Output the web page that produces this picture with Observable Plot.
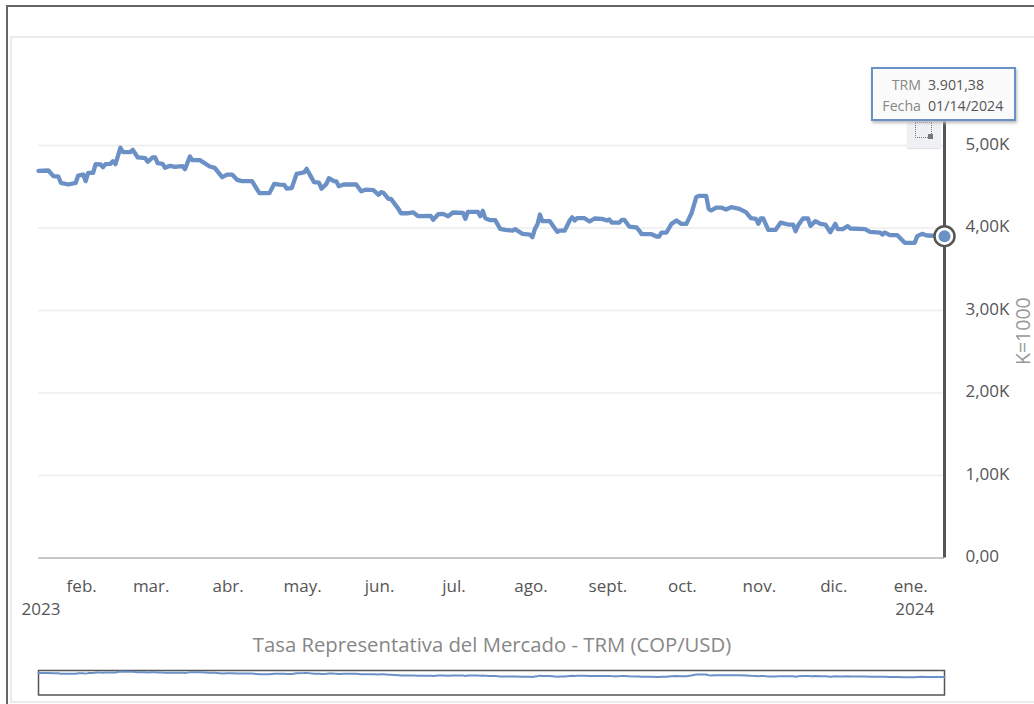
<!DOCTYPE html>
<html lang="es">
<head>
<meta charset="utf-8">
<script src="https://cdn.jsdelivr.net/npm/d3@7"></script>
<script src="https://cdn.jsdelivr.net/npm/@observablehq/plot@0.6"></script>
<style>
html,body{margin:0;padding:0;background:#fff;width:1034px;height:704px;overflow:hidden;font-family:"Open Sans",sans-serif}
svg{position:absolute;left:0;overflow:visible;background:transparent}
.frame{position:absolute;left:6px;top:5px;width:1040px;height:720px;border:2px solid #666;box-sizing:border-box}
.panel{position:absolute;left:10px;top:36px;width:1040px;height:667px;border:2px solid #ebebeb;box-sizing:border-box}
.title{position:absolute;left:0;width:984px;top:630px;text-align:center;color:#878787;font-size:20.3px;line-height:28px;white-space:nowrap}
.zoomBtn{position:absolute;left:907px;top:118px;width:34px;height:30px;background:#eef0f3;border-radius:2px;box-shadow:0 1px 1px #ddd}
.zoomBtn i{position:absolute;left:8px;top:4px;width:17px;height:16px;border:1px dotted #777;box-sizing:border-box}
.zoomBtn b{position:absolute;left:21px;top:16px;width:5px;height:5px;background:#777}
.tip{position:absolute;left:871px;top:67px;width:145px;height:54px;box-sizing:border-box;border:2px solid #6b90c6;background:#fbfbfb;box-shadow:1px 2px 3px #bbb;font-size:14.2px;line-height:20.5px;color:#555}
.tip div{position:absolute;white-space:nowrap}
.tip .k{color:#888;right:93px}
.tip .v{left:55px}
</style>
</head>
<body>
<div class="frame"></div>
<div class="panel"></div>
<div id="chart"></div>
<div class="zoomBtn"><i></i><b></b></div>
<div class="title">Tasa Representativa del Mercado - TRM (COP/USD)</div>
<div class="tip">
  <div class="k" style="top:6px">TRM</div><div class="v" style="top:6px">3.901,38</div>
  <div class="k" style="top:27px">Fecha</div><div class="v" style="top:27px">01/14/2024</div>
</div>
<script>
const inicio = "2023-01-14";
const fin = "2024-01-14";
const meses = ["2023-02-01","2023-03-01","2023-04-01","2023-05-01","2023-06-01","2023-07-01","2023-08-01","2023-09-01","2023-10-01","2023-11-01","2023-12-01","2024-01-01"];
const etiquetasMes = ["feb.","mar.","abr.","may.","jun.","jul.","ago.","sept.","oct.","nov.","dic.","ene."];
const anios = ["2023-01-15","2024-01-02"];
const etiquetasAnio = ["2023","2024"];
const marcasY = [0,1000,2000,3000,4000,5000];
const dias = [0,4,6,8,9,12,15,16,18,19,20,22,23,25,26,27,29,30,31,33,34,37,38,40,43,44,46,47,48,50,51,53,55,58,59,61,62,65,69,71,74,76,78,80,82,86,89,93,95,97,99,100,102,104,107,108,111,113,114,116,117,119,120,121,123,128,130,132,135,137,138,139,141,142,145,146,149,151,153,158,159,161,163,165,167,171,172,173,177,178,179,180,182,184,186,188,191,192,195,198,199,200,201,202,203,206,209,210,212,214,215,216,217,220,222,224,227,229,230,231,234,235,236,238,241,242,243,247,249,250,251,253,255,257,259,261,263,265,266,269,270,271,273,275,277,279,282,285,287,289,290,291,292,294,297,299,302,304,305,306,308,310,311,313,315,317,319,321,322,324,326,327,333,335,339,340,341,343,346,349,353,354,356,358,365];
const trm = [4693,4697,4628,4624,4548,4527,4548,4636,4648,4568,4669,4669,4774,4770,4737,4774,4778,4810,4774,4972,4919,4919,4947,4855,4846,4802,4855,4855,4786,4778,4729,4754,4741,4750,4713,4867,4822,4822,4745,4729,4616,4648,4648,4584,4568,4568,4422,4422,4535,4527,4523,4479,4483,4657,4673,4717,4556,4551,4475,4535,4604,4568,4564,4507,4527,4527,4446,4466,4458,4402,4434,4426,4353,4353,4232,4179,4179,4188,4143,4147,4099,4167,4171,4143,4188,4184,4111,4196,4196,4143,4208,4119,4095,4095,3990,3977,3969,3986,3929,3921,3889,3990,4042,4163,4083,4083,3953,3969,3969,4091,4131,4091,4119,4119,4079,4115,4111,4091,4103,4066,4066,4099,4099,4018,4006,3969,3925,3925,3897,3897,3945,3945,4050,4091,4050,4050,4172,4374,4390,4390,4232,4212,4248,4248,4224,4252,4236,4192,4119,4111,4050,4115,4115,3978,3978,4066,4042,4042,3961,4030,4115,4115,4026,4083,4050,4042,3949,4050,3986,3986,4022,3994,3986,3953,3945,3921,3945,3913,3913,3820,3820,3901,3929,3909,3901.38];

const d0 = new Date(inicio), dN = new Date(fin);
const serie = dias.map((d,i)=>({fecha:d3.utcDay.offset(d0,d),valor:trm[i]}));
const fechasMes = meses.map(m=>new Date(m));
const fechasAnio = anios.map(a=>new Date(a));
const fuente = '"Open Sans",sans-serif';
const azul = "#6b90c6";
const ult = serie[serie.length-1];

const principal = Plot.plot({
  width:1034,height:704,
  marginLeft:38,marginRight:90,marginTop:145,marginBottom:146.5,
  style:{fontFamily:fuente,background:"transparent",overflow:"visible"},
  x:{type:"utc",domain:[d0,dN]},
  y:{domain:[0,5000]},
  marks:[
    Plot.ruleY(marcasY.filter(v=>v>0),{stroke:"#ececec",strokeWidth:1.5}),
    Plot.ruleY([0],{stroke:"#b5b5b5",strokeWidth:1.5}),
    Plot.axisY({anchor:"right",ticks:marcasY,tickSize:0,tickPadding:21,label:null,fontSize:17,color:"#555",dy:-1,
      tickFormat:v=>v===0?"0,00":(v/1000).toFixed(2).replace(".",",")+"K"}),
    Plot.axisX({anchor:"bottom",ticks:fechasMes,tickSize:0,tickPadding:22,dx:-1.5,label:null,fontSize:17,color:"#555",
      tickFormat:(d)=>etiquetasMes[fechasMes.findIndex(f=>+f===+d)]}),
    Plot.axisX({anchor:"bottom",ticks:fechasAnio,tickSize:0,tickPadding:45,label:null,fontSize:17,color:"#555",
      tickFormat:(d)=>etiquetasAnio[fechasAnio.findIndex(f=>+f===+d)]}),
    Plot.text(["K=1000"],{x:()=>dN,y:()=>2750,text:d=>d,rotate:-90,dx:79,fontSize:19.5,fill:"#999"}),
    Plot.ruleX([dN],{y1:0,y2:5500,stroke:"#555",strokeWidth:3}),
    Plot.line(serie,{x:"fecha",y:"valor",stroke:azul,strokeWidth:4.3,strokeLinejoin:"round"}),
    Plot.dot([ult],{x:"fecha",y:"valor",r:10,fill:"#fff",stroke:"#555",strokeWidth:2.5}),
    Plot.dot([ult],{x:"fecha",y:"valor",r:6,fill:azul,stroke:"none"})
  ]
});
principal.style.top="0";

const navegador = Plot.plot({
  width:1034,height:34,
  marginLeft:38,marginRight:90,marginTop:1,marginBottom:8.5,
  style:{background:"transparent",overflow:"visible"},
  x:{type:"utc",domain:[d0,dN],axis:null},
  y:{domain:[288,5192],axis:null},
  marks:[
    Plot.frame({stroke:"#555",strokeWidth:1.5}),
    Plot.line(serie,{x:"fecha",y:"valor",stroke:azul,strokeWidth:2})
  ]
});
navegador.style.top="669px";
const c=document.getElementById("chart");
c.append(principal,navegador);
</script>
</body>
</html>
